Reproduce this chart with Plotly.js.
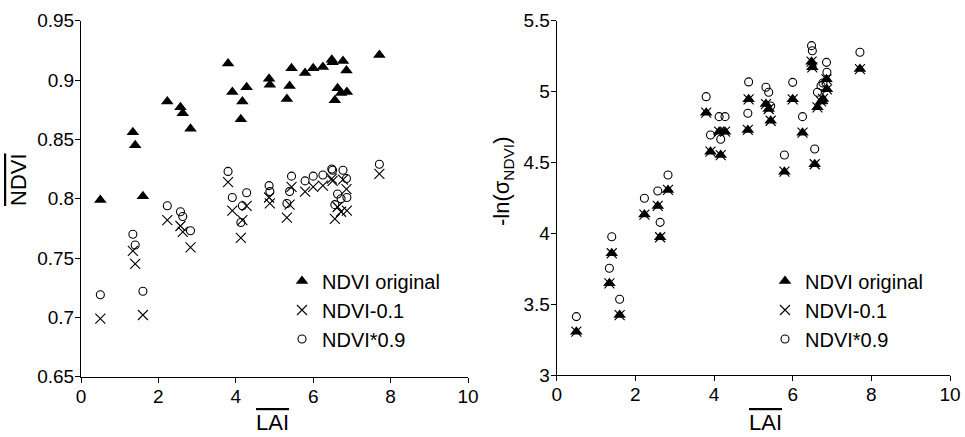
<!DOCTYPE html>
<html>
<head>
<meta charset="utf-8">
<script src="https://cdn.plot.ly/plotly-3.0.1.min.js"></script>
<style>
  html, body { margin: 0; padding: 0; background: #fff; }
  #chart { width: 965px; height: 437px; }
</style>
</head>
<body>
<div id="chart"></div>
<script>
// ---- data ----
const lai = [0.50, 1.34, 1.40, 1.60, 2.23, 2.57, 2.63, 2.83, 3.80, 3.91,
             4.13, 4.17, 4.28, 4.86, 4.88, 5.32, 5.39, 5.44, 5.79, 6.00,
             6.25, 6.48, 6.50, 6.56, 6.63, 6.72, 6.77, 6.86, 6.87, 7.71];

// left panel: mean NDVI
const ndviOriginal = [0.799, 0.856, 0.845, 0.802, 0.882, 0.877, 0.872, 0.859, 0.914, 0.890,
                      0.867, 0.882, 0.894, 0.901, 0.896, 0.884, 0.895, 0.910, 0.906, 0.910,
                      0.911, 0.917, 0.915, 0.883, 0.893, 0.889, 0.916, 0.908, 0.890, 0.921];
const ndviMinus01 = [0.699, 0.756, 0.745, 0.702, 0.782, 0.777, 0.772, 0.759, 0.814, 0.790,
                     0.767, 0.782, 0.794, 0.801, 0.796, 0.784, 0.795, 0.810, 0.806, 0.810,
                     0.811, 0.817, 0.815, 0.783, 0.793, 0.789, 0.816, 0.808, 0.790, 0.821];
const ndviTimes09 = [0.719, 0.770, 0.761, 0.722, 0.794, 0.789, 0.785, 0.773, 0.823, 0.801,
                     0.780, 0.794, 0.805, 0.811, 0.806, 0.796, 0.806, 0.819, 0.815, 0.819,
                     0.820, 0.825, 0.824, 0.795, 0.804, 0.800, 0.824, 0.817, 0.801, 0.829];

// right panel: -ln(sigma NDVI)
const lnSigOriginal = [3.306, 3.647, 3.859, 3.423, 4.132, 4.193, 3.972, 4.306, 4.851, 4.576,
                       4.717, 4.552, 4.717, 4.729, 4.945, 4.912, 4.877, 4.794, 4.435, 4.945,
                       4.710, 5.211, 5.171, 4.487, 4.889, 4.930, 4.948, 5.086, 5.016, 5.159];
const lnSigMinus01 = [3.306, 3.647, 3.859, 3.423, 4.132, 4.193, 3.972, 4.306, 4.851, 4.576,
                      4.717, 4.552, 4.717, 4.729, 4.945, 4.912, 4.877, 4.794, 4.435, 4.945,
                      4.710, 5.211, 5.171, 4.487, 4.889, 4.930, 4.948, 5.086, 5.016, 5.159];
const lnSigTimes09 = [3.412, 3.753, 3.976, 3.534, 4.247, 4.298, 4.077, 4.411, 4.964, 4.694,
                      4.823, 4.663, 4.823, 4.847, 5.068, 5.030, 4.995, 4.898, 4.552, 5.065,
                      4.823, 5.324, 5.288, 4.595, 4.995, 5.040, 5.060, 5.206, 5.136, 5.277];

const seriesNames = ['NDVI original', 'NDVI-0.1', 'NDVI*0.9'];
const xTicks = [0, 2, 4, 6, 8, 10];
const yTicksLeft = [0.65, 0.7, 0.75, 0.8, 0.85, 0.9, 0.95];
const yTicksRight = [3, 3.5, 4, 4.5, 5, 5.5];

// ---- styling ----
const FONT = 'Liberation Sans, Arial, Helvetica, sans-serif';
const symbolStyles = [
  {symbol: 'triangle-up', size: 11, color: '#000', line: {width: 0}},
  {symbol: 'x-thin-open', size: 10, color: '#000', line: {width: 1.1, color: '#000'}},
  {symbol: 'circle-open', size: 8, color: '#000', line: {width: 1.1, color: '#000'}}
];

function mk(x, y, i, xa, ya, leg) {
  return {
    type: 'scatter', mode: 'markers', x: x, y: y, name: seriesNames[i],
    xaxis: xa, yaxis: ya, legend: leg, marker: symbolStyles[i],
    cliponaxis: false
  };
}

const traces = [
  mk(lai, ndviOriginal, 0, 'x', 'y', 'legend'),
  mk(lai, ndviMinus01, 1, 'x', 'y', 'legend'),
  mk(lai, ndviTimes09, 2, 'x', 'y', 'legend'),
  mk(lai, lnSigOriginal, 0, 'x2', 'y2', 'legend2'),
  mk(lai, lnSigMinus01, 1, 'x2', 'y2', 'legend2'),
  mk(lai, lnSigTimes09, 2, 'x2', 'y2', 'legend2')
];

const axBase = {
  showgrid: false, zeroline: false, showline: true, linecolor: '#000', linewidth: 1,
  ticks: 'outside', ticklen: 5, tickwidth: 1, tickcolor: '#000',
  tickfont: {family: FONT, size: 19, color: '#000'},
  ticklabelstandoff: -3,
  tickmode: 'array', fixedrange: true
};

const W = 965, H = 437;
const px = v => v / W, py = v => (H - v) / H;

const legBase = {
  xanchor: 'left', yanchor: 'middle', bgcolor: 'rgba(0,0,0,0)',
  font: {family: FONT, size: 20, color: '#000'}, tracegroupgap: 0
};

const layout = {
  width: W, height: H,
  margin: {l: 0, r: 0, t: 0, b: 0},
  paper_bgcolor: '#fff', plot_bgcolor: '#fff',
  font: {family: FONT, color: '#000'},
  showlegend: true,
  xaxis: Object.assign({}, axBase, {domain: [px(81), px(468)], range: [0, 10],
          tickvals: xTicks, anchor: 'y'}),
  yaxis: Object.assign({}, axBase, {domain: [py(376.7), py(20.7)], range: [0.65, 0.95],
          tickvals: yTicksLeft, anchor: 'x'}),
  xaxis2: Object.assign({}, axBase, {domain: [px(556.7), px(950)], range: [0, 10],
          tickvals: xTicks, anchor: 'y2'}),
  yaxis2: Object.assign({}, axBase, {domain: [py(375), py(20.7)], range: [3, 5.5],
          tickvals: yTicksRight, anchor: 'x2'}),
  legend: Object.assign({}, legBase, {x: px(282), y: py(310)}),
  legend2: Object.assign({}, legBase, {x: px(765), y: py(310)}),
  annotations: [
    {text: '<span style="text-decoration:overline">NDVI</span>', xref: 'paper', yref: 'paper',
     x: px(18), y: py(180), xanchor: 'center', yanchor: 'middle', textangle: -90, showarrow: false,
     font: {family: FONT, size: 22, color: '#000'}},
    {text: '<span style="text-decoration:overline">LAI</span>', xref: 'paper', yref: 'paper',
     x: px(272), y: py(422), xanchor: 'center', yanchor: 'middle', showarrow: false,
     font: {family: FONT, size: 22, color: '#000'}},
    {text: '-ln(σ<sub>NDVI</sub>)', xref: 'paper', yref: 'paper',
     x: px(503), y: py(182), xanchor: 'center', yanchor: 'middle', textangle: -90, showarrow: false,
     font: {family: FONT, size: 22, color: '#000'}},
    {text: '<span style="text-decoration:overline">LAI</span>', xref: 'paper', yref: 'paper',
     x: px(765), y: py(422), xanchor: 'center', yanchor: 'middle', showarrow: false,
     font: {family: FONT, size: 22, color: '#000'}}
  ]
};

Plotly.newPlot('chart', traces, layout, {displayModeBar: false, staticPlot: true});
</script>
</body>
</html>
